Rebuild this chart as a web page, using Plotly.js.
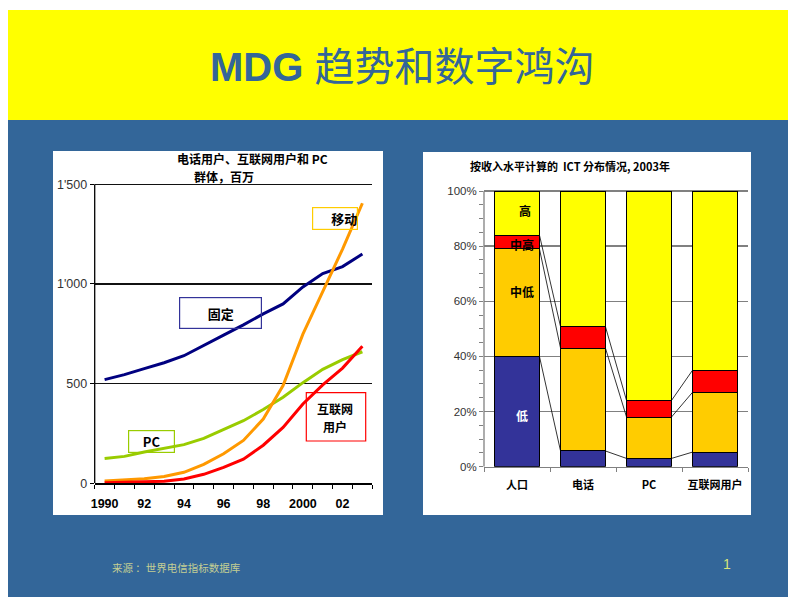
<!DOCTYPE html>
<html>
<head>
<meta charset="utf-8">
<script src="https://cdn.plot.ly/plotly-3.0.1.min.js"></script>
<style>
html,body{margin:0;padding:0;background:#fff;}
#chart{width:788px;height:597px;}
</style>
</head>
<body>
<div id="chart"></div>
<script>
// ---- Left chart data (millions) ----
const years = [1990,1991,1992,1993,1994,1995,1996,1997,1998,1999,2000,2001,2002,2003];
const yearLabels = ['1990','','92','','94','','96','','98','','2000','','02',''];
const fixedLines = [520,545,575,605,640,690,743,795,850,900,985,1052,1087,1150];
const mobile = [11,16,23,34,55,95,148,215,322,490,748,962,1175,1405];
const pcs = [124,135,157,175,194,225,270,314,370,432,505,572,620,660];
const internet = [3,5,8,10,22,45,80,121,191,280,398,494,578,688];
const leftYTicks = [0,500,1000,1500];
const leftYLabels = ['0','500',"1'000","1'500"];

// ---- Right chart data (% share, 2003) ----
const categories = ['人口','电话','PC','互联网用户'];
const low = [40,5.7,3,5.3];
const lowerMid = [39,37.3,15,21.7];
const upperMid = [5,7.8,6,8];
const high = [16,49.2,76,65];
const rightYTicks = [0,20,40,60,80,100];
const rightYLabels = ['0%','20%','40%','60%','80%','100%'];

const W = 788, H = 597;
const px = x => x / W;
const py = y => 1 - y / H;
const latin = 'Liberation Sans, Arial, Noto Sans CJK SC, sans-serif';
const cjk = 'Noto Sans CJK SC, Liberation Sans, sans-serif';

const catPos = categories.map((c,i)=>i);
const barW = 0.68;

const traces = [];
// Left lines
traces.push({x:years, y:fixedLines, type:'scatter', mode:'lines', line:{color:'#000080', width:3}, xaxis:'x', yaxis:'y'});
traces.push({x:years, y:pcs, type:'scatter', mode:'lines', line:{color:'#99CC00', width:3}, xaxis:'x', yaxis:'y'});
traces.push({x:years, y:mobile, type:'scatter', mode:'lines', line:{color:'#FF9900', width:3}, xaxis:'x', yaxis:'y'});
traces.push({x:years, y:internet, type:'scatter', mode:'lines', line:{color:'#FF0000', width:3}, xaxis:'x', yaxis:'y'});

// Right stacked bars
const segs = [[low,'#333399'],[lowerMid,'#FFCC00'],[upperMid,'#FF0000'],[high,'#FFFF00']];
segs.forEach(([vals,col])=>{
  traces.push({x:catPos, y:vals, type:'bar', width:barW, marker:{color:col, line:{color:'#000', width:1}}, xaxis:'x2', yaxis:'y2'});
});
// connecting lines between cumulative boundaries
const cum1 = low;
const cum2 = low.map((v,i)=>v+lowerMid[i]);
const cum3 = cum2.map((v,i)=>v+upperMid[i]);
const lx = [], ly = [];
[cum1,cum2,cum3].forEach(c=>{
  for(let i=0;i<c.length-1;i++){
    lx.push(catPos[i]+barW/2, catPos[i+1]-barW/2, null);
    ly.push(c[i], c[i+1], null);
  }
});
traces.push({x:lx, y:ly, type:'scatter', mode:'lines', line:{color:'#000', width:0.8}, xaxis:'x2', yaxis:'y2', connectgaps:false});

const shapes = [
  {type:'rect', xref:'paper', yref:'paper', x0:px(8), x1:1, y0:py(120), y1:py(10), fillcolor:'#FFFF00', line:{width:0}, layer:'below'},
  {type:'rect', xref:'paper', yref:'paper', x0:px(8), x1:1, y0:0, y1:py(120), fillcolor:'#336699', line:{width:0}, layer:'below'},
  {type:'rect', xref:'paper', yref:'paper', x0:px(53), x1:px(383), y0:py(515), y1:py(151), fillcolor:'#FFFFFF', line:{width:0}, layer:'below'},
  {type:'rect', xref:'paper', yref:'paper', x0:px(423), x1:px(751), y0:py(515), y1:py(152), fillcolor:'#FFFFFF', line:{width:0}, layer:'below'},
  // label box for internet users
  {type:'rect', xref:'paper', yref:'paper', x0:px(306.3), x1:px(365.7), y0:py(441), y1:py(392.7), fillcolor:'rgba(0,0,0,0)', line:{color:'#FF0000', width:1.2}, layer:'above'}
];

const bold = (size,color)=>({family:cjk, size:size, color:color||'#000', weight:'bold'});

const annotations = [
  {text:'<b>MDG</b> 趋势和数字鸿沟', xref:'paper', yref:'paper', x:px(402), y:py(67), showarrow:false, xanchor:'center', yanchor:'middle',
   font:{family:latin, size:40, color:'#336699'}},
  {text:'电话用户、互联网用户和 PC', xref:'paper', yref:'paper', x:px(252), y:py(159), showarrow:false, xanchor:'center', yanchor:'middle', font:bold(12)},
  {text:'群体，百万', xref:'paper', yref:'paper', x:px(224), y:py(176.5), showarrow:false, xanchor:'center', yanchor:'middle', font:bold(12)},
  {text:'按收入水平计算的  ICT 分布情况, 2003年', xref:'paper', yref:'paper', x:px(570), y:py(166), showarrow:false, xanchor:'center', yanchor:'middle', font:bold(11)},
  // left boxes
  {text:'移动', xref:'paper', yref:'paper', x:px(335), y:py(218.3), showarrow:false, xanchor:'center', yanchor:'middle',
   width:44, height:21, align:'right', bordercolor:'#FFCC00', borderwidth:1.2, borderpad:0, font:bold(13)},
  {text:'固定', xref:'paper', yref:'paper', x:px(220.7), y:py(313), showarrow:false, xanchor:'center', yanchor:'middle',
   width:81, height:30, align:'center', bordercolor:'#333399', borderwidth:1.2, borderpad:0, font:bold(13)},
  {text:'PC', xref:'paper', yref:'paper', x:px(151.5), y:py(441), showarrow:false, xanchor:'center', yanchor:'middle',
   width:45, height:21, align:'center', bordercolor:'#99CC00', borderwidth:1.2, borderpad:0, font:bold(13)},
  {text:'互联网', xref:'paper', yref:'paper', x:px(335), y:py(408.5), showarrow:false, xanchor:'center', yanchor:'middle', font:bold(12)},
  {text:'用户', xref:'paper', yref:'paper', x:px(335), y:py(426.5), showarrow:false, xanchor:'center', yanchor:'middle', font:bold(12)},
  // bar labels
  {text:'高', xref:'x2', yref:'y2', x:0.12, y:93, showarrow:false, font:bold(12)},
  {text:'中高', xref:'x2', yref:'y2', x:0.07, y:80.6, showarrow:false, font:bold(12)},
  {text:'中低', xref:'x2', yref:'y2', x:0.07, y:63.4, showarrow:false, font:bold(12)},
  {text:'低', xref:'x2', yref:'y2', x:0.08, y:18.4, showarrow:false, font:bold(12,'#FFFFFF')},
  // footer
  {text:'来源 ：世界电信指标数据库', xref:'paper', yref:'paper', x:px(110), y:py(567), showarrow:false, xanchor:'left', yanchor:'middle',
   font:{family:cjk, size:10.5, color:'#C3CE94'}},
  {text:'1', xref:'paper', yref:'paper', x:px(727), y:py(564), showarrow:false, xanchor:'center', yanchor:'middle',
   font:{family:latin, size:14, color:'#D8E47A'}}
];

// left: 0 at y=483.3, 1500 at y=184.3 ; extend range slightly so the top gridline is drawn
const lScale = (483.3-184.3)/1500;
const lTop = 1512;
// right: 0% at 466.7, 100% at 191
const rScale = (466.7-191)/100;
const rTop = 100.8;

const layout = {
  width:W, height:H,
  margin:{l:0,r:0,t:0,b:0,pad:0},
  paper_bgcolor:'#FFFFFF', plot_bgcolor:'#FFFFFF',
  showlegend:false, barmode:'stack',
  font:{family:latin},
  xaxis:{domain:[px(94.7), px(372.3)], range:[1989.5,2003.5], anchor:'y',
    tickmode:'array', tickvals:years, ticktext:yearLabels, ticks:'',
    minor:{tick0:1989.5, dtick:1, ticks:'outside', ticklen:4, tickcolor:'#000', tickwidth:1},
    showline:true, linecolor:'#000', linewidth:1.3, showgrid:false, zeroline:false,
    ticklabelstandoff:8,
    tickfont:{family:latin, size:12.5, color:'#000', weight:'bold'}},
  yaxis:{domain:[py(483.3), py(483.3 - lTop*lScale)], range:[0,lTop], anchor:'x',
    tickmode:'array', tickvals:leftYTicks, ticktext:leftYLabels, ticks:'outside', ticklen:4, tickcolor:'#000',
    showline:false, showgrid:true, gridcolor:'#111', gridwidth:1.3, zeroline:false,
    tickfont:{family:latin, size:12.5, color:'#333'}},
  xaxis2:{domain:[px(484), px(748)], range:[-0.5,3.5], anchor:'y2',
    tickmode:'array', tickvals:catPos, ticktext:categories, ticks:'',
    minor:{tick0:-0.5, dtick:1, ticks:'outside', ticklen:4, tickcolor:'#808080', tickwidth:1},
    showline:true, linecolor:'#808080', linewidth:1.3, showgrid:false, zeroline:false,
    ticklabelstandoff:8,
    tickfont:{family:cjk, size:11, color:'#000', weight:'bold'}},
  yaxis2:{domain:[py(466.7), py(466.7 - rTop*rScale)], range:[0,rTop], anchor:'x2',
    tickmode:'array', tickvals:rightYTicks, ticktext:rightYLabels, ticks:'outside', ticklen:4, tickcolor:'#808080',
    minor:{dtick:5, ticks:'outside', ticklen:4, tickcolor:'#808080', tickwidth:1},
    showline:false, showgrid:true, gridcolor:'#808080', gridwidth:1.3, zeroline:false,
    tickfont:{family:latin, size:11.5, color:'#333'}},
  shapes:shapes.concat([
    {type:'line', xref:'x domain', yref:'y', x0:0, x1:0, y0:0, y1:1500, line:{color:'#000', width:1.3}},
    {type:'line', xref:'x2 domain', yref:'y2', x0:0, x1:0, y0:0, y1:100, line:{color:'#808080', width:1.3}}
  ]),
  annotations:annotations
};

Plotly.newPlot('chart', traces, layout, {staticPlot:true, displayModeBar:false});
</script>
</body>
</html>
